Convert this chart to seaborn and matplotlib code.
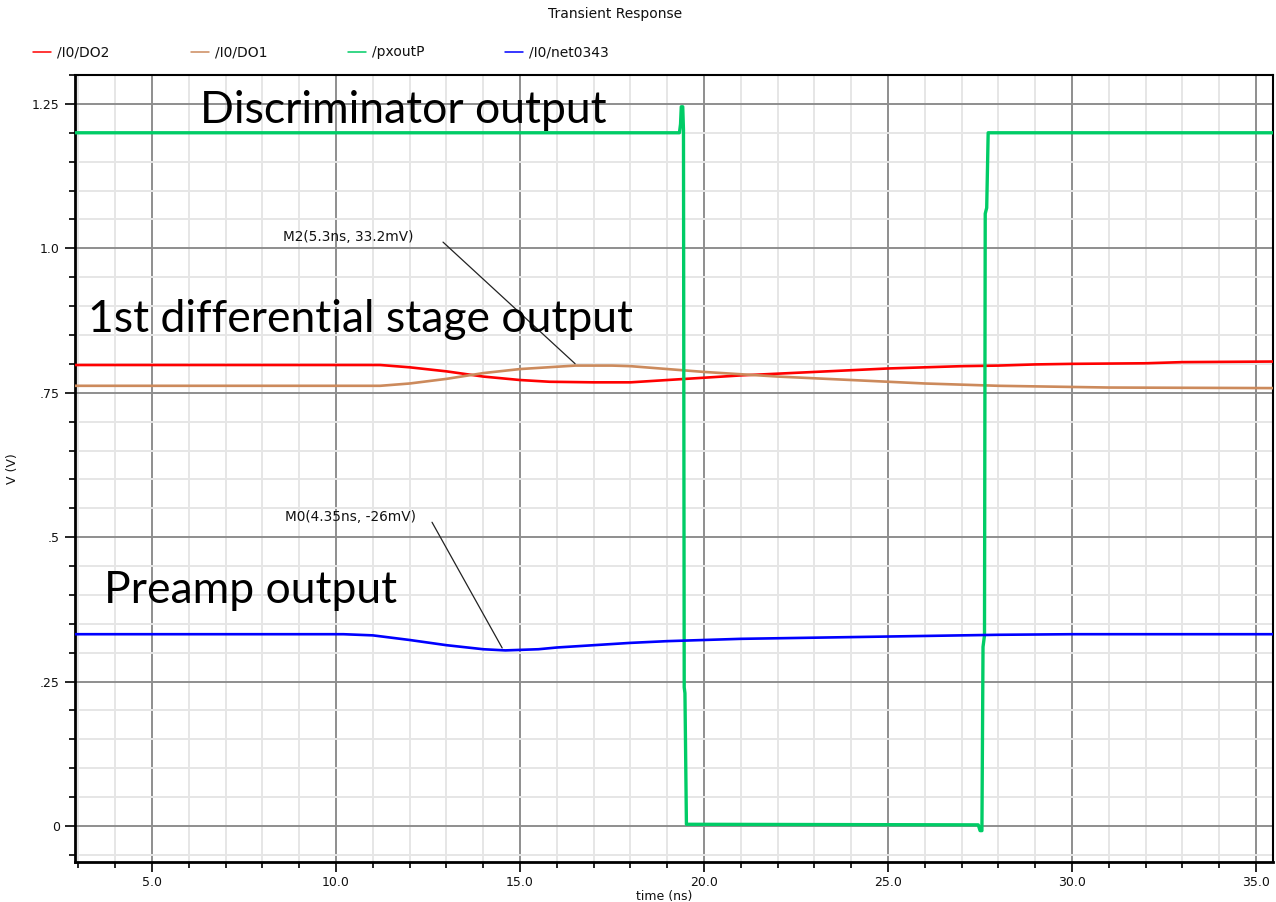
import numpy as np
import pandas as pd
import matplotlib
matplotlib.use("Agg")
import matplotlib.pyplot as plt
from matplotlib.lines import Line2D
from matplotlib.ticker import MultipleLocator, FixedLocator, FixedFormatter
import seaborn as sns

# ---- simulated waveforms (time in ns, voltage in V) ----
t_do2 = [2.9, 11.2, 12.0, 13.0, 14.0, 15.0, 15.8, 17.0, 18.0, 19.0, 20.0, 21.0, 22.0,
         23.0, 24.0, 25.0, 26.0, 27.0, 28.0, 29.0, 30.0, 32.0, 33.0, 35.5]
v_do2 = [0.798, 0.798, 0.794, 0.787, 0.778, 0.772, 0.769, 0.768, 0.768, 0.772, 0.776,
         0.780, 0.783, 0.786, 0.789, 0.792, 0.794, 0.796, 0.797, 0.799, 0.800, 0.801,
         0.803, 0.804]

t_do1 = [2.9, 11.2, 12.0, 13.0, 14.0, 15.0, 16.0, 16.5, 17.5, 18.0, 19.0, 20.0, 21.0,
         22.0, 23.0, 24.0, 25.0, 26.0, 27.0, 28.0, 29.0, 30.0, 31.0, 35.5]
v_do1 = [0.762, 0.762, 0.766, 0.774, 0.784, 0.791, 0.795, 0.797, 0.797, 0.796, 0.791,
         0.786, 0.782, 0.778, 0.775, 0.772, 0.769, 0.766, 0.764, 0.762, 0.761, 0.760,
         0.759, 0.758]

t_pxout = [2.9, 19.33, 19.36, 19.38, 19.42, 19.44, 19.46, 19.48, 19.52, 27.45, 27.5,
           27.55, 27.58, 27.62, 27.64, 27.68, 27.72, 35.5]
v_pxout = [1.2, 1.2, 1.215, 1.245, 1.245, 1.205, 0.24, 0.23, 0.003, 0.002, -0.008,
           -0.008, 0.31, 0.33, 1.06, 1.07, 1.2, 1.2]

t_net = [2.9, 10.2, 11.0, 12.0, 13.0, 14.0, 14.6, 15.5, 16.0, 17.0, 18.0, 19.0, 20.0,
         21.0, 22.0, 23.0, 24.0, 25.0, 26.0, 27.0, 28.0, 30.0, 35.5]
v_net = [0.332, 0.332, 0.330, 0.322, 0.313, 0.306, 0.304, 0.306, 0.309, 0.313, 0.317,
         0.320, 0.322, 0.324, 0.325, 0.326, 0.327, 0.328, 0.329, 0.330, 0.331, 0.332,
         0.332]

signal_names = ["/I0/DO2", "/I0/DO1", "/pxoutP", "/I0/net0343"]
signal_colors = ["#ff0000", "#cc8a5c", "#00cc66", "#0000ff"]
signal_widths = [1.9, 1.9, 2.4, 1.9]

# cursor markers: label, text anchor, line start, target point
marker_labels = ["M2(5.3ns, 33.2mV)", "M0(4.35ns, -26mV)"]
marker_text_xy = [(8.56, 1.020), (8.62, 0.535)]
marker_line_from = [(12.85, 1.014), (12.57, 0.530)]
marker_target = [(16.55, 0.797), (14.55, 0.304)]

overlay_labels = ["Discriminator output", "1st differential stage output", "Preamp output"]
overlay_xy = [(6.30, 1.238), (3.27, 0.876), (3.70, 0.407)]

x_major = [5.0, 10.0, 15.0, 20.0, 25.0, 30.0, 35.0]
x_major_labels = ["5.0", "10.0", "15.0", "20.0", "25.0", "30.0", "35.0"]
y_major = [0.0, 0.25, 0.5, 0.75, 1.0, 1.25]
y_major_labels = ["0", ".25", ".5", ".75", "1.0", "1.25"]

frames = []
for name, t, v in zip(signal_names,
                      [t_do2, t_do1, t_pxout, t_net],
                      [v_do2, v_do1, v_pxout, v_net]):
    frames.append(pd.DataFrame({"time": t, "V": v, "signal": name}))
df = pd.concat(frames, ignore_index=True)

sns.set_theme(style="white")
plt.rcParams["font.family"] = ["DejaVu Sans"]

fig = plt.figure(figsize=(12.76, 9.02), dpi=100)
ax = fig.add_axes([75 / 1276, 40 / 902, 1198 / 1276, 787 / 902])

for name, col, lw in zip(signal_names, signal_colors, signal_widths):
    sub = df[df["signal"] == name]
    sns.lineplot(data=sub, x="time", y="V", color=col, linewidth=lw, ax=ax,
                 estimator=None, sort=False, legend=False, zorder=3)

ax.set_xlim(2.905, 35.46)
ax.set_ylim(-0.0623, 1.300)

# grid: dark lines on major ticks, light lines on minor ticks
ax.xaxis.set_major_locator(FixedLocator(x_major))
ax.xaxis.set_major_formatter(FixedFormatter(x_major_labels))
ax.xaxis.set_minor_locator(MultipleLocator(1.0))
ax.yaxis.set_major_locator(FixedLocator(y_major))
ax.yaxis.set_major_formatter(FixedFormatter(y_major_labels))
ax.yaxis.set_minor_locator(MultipleLocator(0.05))
ax.grid(True, which="minor", color="#e6e6e6", linewidth=1.4, zorder=0)
ax.grid(True, which="major", color="#8e8e8e", linewidth=1.4, zorder=1)
ax.set_axisbelow(True)

ax.tick_params(axis="both", which="major", direction="out", length=7, width=1.2,
               color="black", labelsize=9, labelcolor="#111111")
ax.tick_params(axis="x", which="major", pad=3)
ax.tick_params(axis="y", which="major", pad=4)
ax.tick_params(axis="both", which="minor", direction="out", length=4, width=1.2,
               color="black")
ax.tick_params(left=True, bottom=True, which="both")
for side, sp in ax.spines.items():
    sp.set_color("black")
    sp.set_linewidth(1.5 if side in ("top", "right") else 2.0)

ax.set_xlabel("time (ns)", fontsize=9, color="#111111")
ax.set_ylabel("V (V)", fontsize=9, color="#111111")
ax.xaxis.set_label_coords(0.492, -0.036)
ax.yaxis.set_label_coords(-0.047, 0.5)

# cursor annotations
for lab, txy, lfrom, tgt in zip(marker_labels, marker_text_xy, marker_line_from, marker_target):
    ax.text(txy[0], txy[1], lab, fontsize=9.8, color="#111111", va="center", ha="left",
            zorder=5)
    ax.annotate("", xy=tgt, xytext=lfrom,
                arrowprops=dict(arrowstyle="-", color="#222222", lw=0.9), zorder=5)

# large labels for each stage
for lab, xy in zip(overlay_labels, overlay_xy):
    ax.text(xy[0], xy[1], lab, fontsize=32, family=["Lato", "DejaVu Sans"],
            color="black", va="center", ha="left", zorder=6)

# title and legend row
fig.text(615 / 1276, 1 - 14 / 902, "Transient Response", fontsize=10, color="#111111",
         ha="center", va="center")
leg_x = [33, 191, 348, 505]
for x0, name, col in zip(leg_x, signal_names, signal_colors):
    y0 = 1 - 52 / 902
    fig.add_artist(Line2D([x0 / 1276, (x0 + 18) / 1276], [y0, y0],
                          transform=fig.transFigure, color=col, linewidth=1.1))
    fig.text((x0 + 24) / 1276, y0, name, fontsize=10, color="#111111",
             ha="left", va="center")

fig.savefig("out.png", dpi=100, facecolor="white")
